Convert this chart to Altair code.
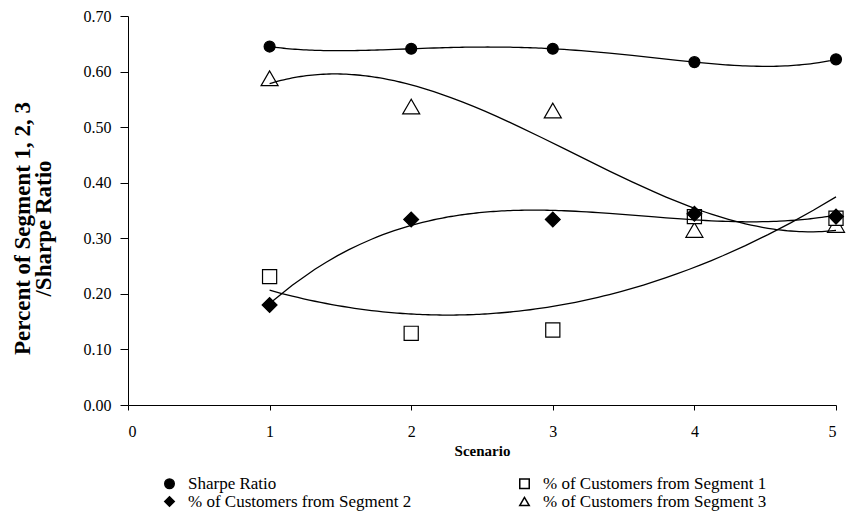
import altair as alt
import pandas as pd

# Scenario results: Sharpe ratio and share of customers from each segment
scenario = [1, 2, 3, 4, 5]
sharpe_ratio = [0.645, 0.641, 0.641, 0.617, 0.622]
segment_1 = [0.231, 0.129, 0.135, 0.339, 0.336]
segment_2 = [0.180, 0.334, 0.334, 0.344, 0.339]
segment_3 = [0.588, 0.537, 0.530, 0.315, 0.324]

series_names = [
    "Sharpe Ratio",
    "% of Customers from Segment 1",
    "% of Customers from Segment 2",
    "% of Customers from Segment 3",
]
series_shapes = ["circle", "square", "diamond", "triangle-up"]
series_fills = ["black", "white", "black", "white"]
series_sizes = [120, 200, 220, 290]

# Rows are stacked so that diamonds end up drawn over squares and triangles
rows = []
for name, values in [
    (series_names[3], segment_3),
    (series_names[1], segment_1),
    (series_names[2], segment_2),
    (series_names[0], sharpe_ratio),
]:
    for s, v in zip(scenario, values):
        rows.append({"scenario": s, "value": v, "series": name})
df = pd.DataFrame(rows)

FONT = "Liberation Serif"

x_enc = alt.X(
    "scenario:Q",
    scale=alt.Scale(domain=[0, 5], nice=False, zero=False),
    axis=alt.Axis(
        title="Scenario",
        values=[0, 1, 2, 3, 4, 5],
        format="d",
        titleFontWeight="bold",
        titleFontSize=15,
        titlePadding=4,
        tickSize=5,
        labelPadding=13,
    ),
)
y_enc = alt.Y(
    "value:Q",
    scale=alt.Scale(domain=[0, 0.7], nice=False),
    axis=alt.Axis(
        title=["Percent of Segment 1, 2, 3", "/Sharpe Ratio"],
        values=[0, 0.1, 0.2, 0.3, 0.4, 0.5, 0.6, 0.7],
        format=".2f",
        tickSize=8,
        labelPadding=9,
        titleFontWeight="bold",
        titleFontSize=23,
        titleAngle=-90,
        titleAlign="center",
        titleBaseline="top",
        titleLineHeight=21,
        titleX=-117,
        titleY=212,
    ),
)

legend_opts = dict(
    orient="none",
    legendX=33,
    legendY=459,
    columns=2,
    direction="horizontal",
)

# Marker area per series, given as conditional values (no extra legend)
size_enc = alt.SizeValue(
    value=series_sizes[0],
    condition=[
        {"test": f"datum.series === '{n}'", "value": s}
        for n, s in zip(series_names[1:], series_sizes[1:])
    ],
)

base = alt.Chart(df)

points = base.mark_point(
    filled=True, stroke="black", strokeWidth=1.2, opacity=1
).encode(
    x=x_enc,
    y=y_enc,
    shape=alt.Shape(
        "series:N",
        title=None,
        scale=alt.Scale(domain=series_names, range=series_shapes),
        legend=alt.Legend(**legend_opts),
    ),
    fill=alt.Fill(
        "series:N",
        title=None,
        scale=alt.Scale(domain=series_names, range=series_fills),
        legend=alt.Legend(**legend_opts),
    ),
    size=size_enc,
)


def trend(name, order):
    # Polynomial trend line fitted through one series
    return (
        base.transform_filter(alt.datum.series == name)
        .transform_regression("scenario", "value", method="poly", order=order)
        .mark_line(color="black", strokeWidth=1.3)
        .encode(x=x_enc, y=y_enc)
    )


chart = (
    alt.layer(
        points,
        trend(series_names[0], 4),
        trend(series_names[1], 2),
        trend(series_names[2], 3),
        trend(series_names[3], 3),
    )
    .properties(
        width=708,
        height=389,
        background="white",
        autosize=alt.AutoSizeParams(type="none"),
        padding={"left": 128, "top": 16, "right": 13, "bottom": 109},
    )
    .configure_view(stroke=None)
    .configure_axis(
        grid=False,
        domainColor="black",
        domainWidth=1,
        tickColor="black",
        labelFont=FONT,
        labelFontSize=16,
        labelColor="black",
        titleFont=FONT,
        titleColor="black",
    )
    .configure_legend(
        labelFont=FONT,
        labelFontSize=17,
        labelColor="black",
        labelLimit=400,
        labelOffset=10,
        symbolSize=90,
        columnPadding=104,
        rowPadding=0,
        padding=0,
    )
)

chart.save("out.html", embed_options={"renderer": "svg", "actions": False})
